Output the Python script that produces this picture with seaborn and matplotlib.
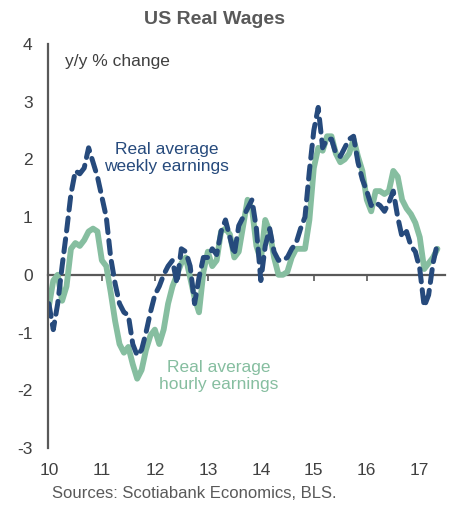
import numpy as np
import pandas as pd
import matplotlib
matplotlib.use("Agg")
import matplotlib.pyplot as plt
import seaborn as sns

# monthly data, Jan 2010 - May 2017 (y/y % change)
hourly = [-0.55, -0.1, 0.0, -0.45, -0.2, 0.45, 0.55, 0.5, 0.6, 0.75, 0.8, 0.75,
          0.25, 0.15, -0.3, -0.8, -1.2, -1.35, -1.25, -1.55, -1.8, -1.65, -1.3, -1.05,
          -0.95, -1.2, -0.95, -0.5, -0.2, 0.0, 0.2, 0.3, -0.05, -0.4, -0.65, 0.05,
          0.4, 0.15, 0.25, 0.75, 0.8, 0.7, 0.3, 0.4, 0.85, 1.3, 1.15, 0.5,
          0.25, 0.95, 0.75, 0.3, 0.0, 0.0, 0.05, 0.3, 0.45, 0.45, 0.45, 0.95,
          1.85, 2.2, 2.15, 2.4, 2.4, 2.1, 1.95, 2.0, 2.1, 2.35, 2.05, 1.8,
          1.3, 1.1, 1.45, 1.45, 1.4, 1.45, 1.8, 1.7, 1.3, 1.15, 1.05, 0.9,
          0.65, 0.1, 0.2, 0.3, 0.45]
weekly = [-0.5, -0.95, -0.5, 0.15, 0.75, 1.4, 1.8, 1.75, 1.85, 2.2, 1.95, 1.7,
          1.35, 1.0, 0.3, -0.15, -0.5, -0.65, -0.7, -1.2, -1.4, -1.3, -1.0, -0.65,
          -0.35, -0.2, 0.0, 0.15, 0.25, -0.15, 0.45, 0.4, 0.15, -0.5, -0.05, 0.3,
          0.3, 0.45, 0.35, 0.75, 0.95, 0.65, 0.35, 0.85, 1.0, 1.15, 1.3, 0.8,
          -0.1, 0.5, 0.8, 0.4, 0.25, 0.25, 0.3, 0.45, 0.55, 0.8, 1.0, 1.8,
          2.5, 2.9, 2.2, 2.35, 2.35, 2.1, 2.05, 2.2, 2.35, 2.4, 1.95, 1.65,
          1.45, 1.2, 1.25, 1.2, 1.1, 1.25, 1.45, 1.0, 0.65, 0.75, 0.5, 0.4,
          0.1, -0.55, -0.35, 0.2, 0.55]
years = [2010, 2011, 2012, 2013, 2014, 2015, 2016, 2017]
year_labels = ["10", "11", "12", "13", "14", "15", "16", "17"]

t = 2010 + np.arange(len(hourly)) / 12
df = pd.DataFrame({"t": t, "hourly": hourly, "weekly": weekly})

navy = "#264a7c"
green = "#86bea0"
grey = "#595959"
dark = "#404040"

sns.set_style("white")
plt.rcParams["font.family"] = ["Liberation Sans", "DejaVu Sans"]

fig = plt.figure(figsize=(4.51, 5.05), dpi=100)
ax = fig.add_axes([0.106, 0.113, 0.88, 0.80])

sns.lineplot(data=df, x="t", y="hourly", ax=ax, color=green, linewidth=4.2,
             solid_joinstyle="round", solid_capstyle="round")
sns.lineplot(data=df, x="t", y="weekly", ax=ax, color=navy, linewidth=3.6,
             dashes=False)
ax.lines[-1].set_dashes([2.6, 1.6])
ax.lines[-1].set_dash_capstyle("round")
ax.lines[-1].set_dash_joinstyle("round")

ax.set_xlim(2009.98, 2017.47)
ax.set_ylim(-3, 4)
ax.set_yticks(range(-3, 5))
ax.set_yticklabels([str(v) for v in range(-3, 5)], fontsize=12.5, color=dark)
ax.set_xticks(years)
ax.set_xticklabels(year_labels, fontsize=12.5, color=dark)
ax.tick_params(axis="x", length=0, pad=11)
ax.tick_params(axis="y", direction="in", length=5, width=1.2, color=grey, pad=11)
ax.set_xlabel("")
ax.set_ylabel("")

for s in ["top", "right", "bottom"]:
    ax.spines[s].set_visible(False)
ax.spines["left"].set_color(grey)
ax.spines["left"].set_linewidth(1.6)

# zero line with year ticks
zero = ax.secondary_xaxis(3 / 7)
zero.set_xticks(years[1:])
zero.set_xticklabels([])
zero.tick_params(direction="out", length=4, width=1.2, color=grey)
zero.spines["bottom"].set_color(grey)
zero.spines["bottom"].set_linewidth(1.6)
zero.set_zorder(1)

ax.text(2010.3, 3.82, "y/y % change", fontsize=12.5, color=dark, va="top")
ax.text(2012.22, 2.03, "Real average\nweekly earnings", fontsize=12.5, color=navy,
        ha="center", va="center", linespacing=1.15)
ax.text(2013.2, -1.76, "Real average\nhourly earnings", fontsize=12.5, color=green,
        ha="center", va="center", linespacing=1.15)

fig.text(0.476, 0.962, "US Real Wages", fontsize=14, fontweight="bold",
         color=grey, ha="center", va="center")
fig.text(0.115, 0.023, "Sources: Scotiabank Economics, BLS.", fontsize=12,
         color=grey, ha="left", va="center")

fig.savefig("out.png", dpi=100)
